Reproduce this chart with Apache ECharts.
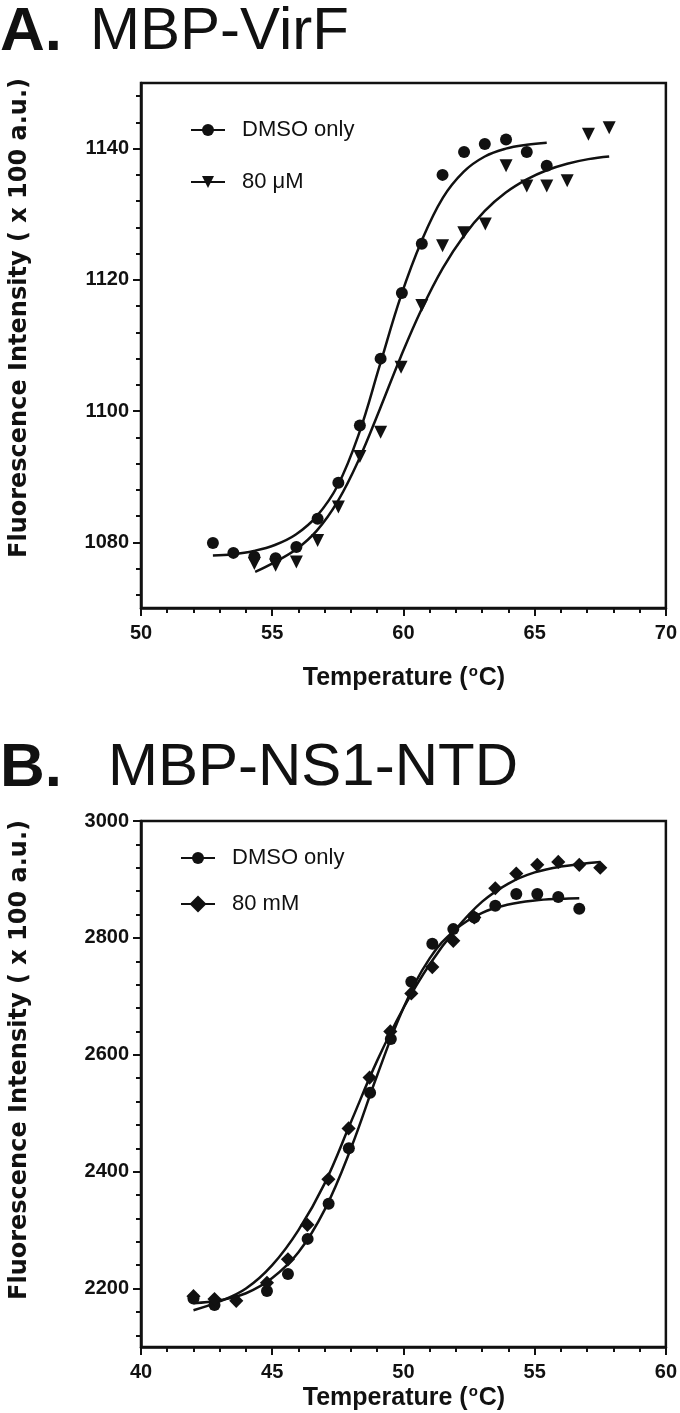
<!DOCTYPE html>
<html>
<head>
<meta charset="utf-8">
<script src="https://cdn.jsdelivr.net/npm/echarts@6/dist/echarts.min.js"></script>
<style>
html,body{margin:0;padding:0;background:#fff;}
#chart{width:680px;height:1413px;}
</style>
</head>
<body>
<div id="chart"></div>
<script>
// ---------- Panel A : MBP-VirF ----------
const tempDmsoA = [52.74,53.52,54.32,55.13,55.92,56.73,57.52,58.34,59.13,59.94,60.70,61.49,62.31,63.10,63.91,64.70,65.46];
const valDmsoA  = [1079.9,1078.4,1077.8,1077.6,1079.3,1083.6,1089.1,1097.8,1108.0,1118.0,1125.5,1136.0,1139.5,1140.7,1141.4,1139.5,1137.4];
const temp80A   = [54.32,55.13,55.92,56.73,57.52,58.34,59.13,59.91,60.70,61.49,62.30,63.12,63.91,64.70,65.46,66.24,67.05,67.84];
const val80A    = [1076.8,1076.5,1077.0,1080.3,1085.4,1093.1,1096.8,1106.7,1116.1,1125.2,1127.2,1128.5,1137.4,1134.3,1134.3,1135.1,1142.2,1143.2];
const fitTempDmsoA = [52.74,53.5,54.3,55.1,55.9,56.7,57.5,58.3,59.1,59.9,60.7,61.5,62.3,63.1,63.9,64.7,65.46];
const fitValDmsoA  = [1078.0,1078.2,1078.7,1079.6,1081.2,1084.0,1088.7,1096.5,1107.0,1117.5,1126.0,1132.5,1136.5,1138.8,1140.0,1140.6,1140.9];
const fitTemp80A   = [54.35,55.1,55.9,56.7,57.5,58.3,59.1,59.9,60.7,61.5,62.3,63.1,63.9,64.7,65.46,66.24,67.05,67.84];
const fitVal80A    = [1075.5,1077.0,1078.9,1081.8,1086.3,1092.6,1100.3,1108.3,1115.6,1121.8,1126.7,1130.5,1133.3,1135.3,1136.7,1137.7,1138.4,1138.8];
const yLabelsA = [1080,1100,1120,1140];

// ---------- Panel B : MBP-NS1-NTD ----------
const tempDmsoB = [42.0,42.8,44.8,45.6,46.35,47.15,47.92,48.73,49.52,50.30,51.1,51.9,52.7,53.5,54.3,55.1,55.9,56.7];
const valDmsoB  = [2183,2172,2196,2225,2285,2345,2440,2535,2627,2725,2790,2815,2835,2855,2875,2875,2870,2850];
const temp80B   = [42.0,42.8,43.63,44.8,45.6,46.34,47.14,47.91,48.71,49.50,50.30,51.1,51.9,52.7,53.5,54.3,55.1,55.9,56.7,57.5];
const val80B    = [2187,2182,2179,2210,2250,2309,2387,2474,2561,2640,2705,2750,2795,2835,2885,2910,2925,2930,2925,2920];
const fitTempDmsoB = [42.0,43.0,44.0,45.0,46.0,47.0,48.0,49.0,50.0,51.0,52.0,53.0,54.0,55.0,56.0,56.7];
const fitValDmsoB  = [2175,2180,2192,2218,2262,2335,2440,2565,2680,2765,2815,2843,2857,2864,2867,2868];
const fitTemp80B   = [42.0,43.0,44.0,45.0,46.0,47.0,48.0,49.0,50.0,51.0,52.0,53.0,54.0,55.0,56.0,57.5];
const fitVal80B    = [2163,2178,2200,2240,2300,2380,2485,2590,2680,2755,2815,2862,2893,2912,2922,2930];
const yLabelsB = [2200,2400,2600,2800,3000];

const legendA = ['DMSO only','80 \u03bcM'];
const legendB = ['DMSO only','80 mM'];

function pairs(xs, ys){ return xs.map((x,i)=>[x, ys[i]]); }
function range(a, b, s){ const r=[]; for(let v=a; v<=b+1e-9; v+=s) r.push(Math.round(v*100)/100); return r; }

const INK = '#111';
const tickFont = {fontFamily:'Liberation Sans', fontWeight:'bold', fontSize:20, color:INK};

const chart = echarts.init(document.getElementById('chart'), null, {renderer:'canvas'});

function xAxisFor(g, min, max){
  return {
    type:'value', gridIndex:g, min:min, max:max, interval:5,
    axisLine:{show:true, onZero:false, lineStyle:{color:INK, width:2.5}},
    axisTick:{show:true, length:8, lineStyle:{color:INK, width:2}},
    minorTick:{show:true, splitNumber:5, length:5, lineStyle:{color:INK, width:2}},
    axisLabel:{...tickFont, margin:15, formatter:v=>String(v)},
    splitLine:{show:false}, minorSplitLine:{show:false}
  };
}
function yAxisMain(g, min, max, labels){
  return {
    type:'value', gridIndex:g, min:min, max:max, position:'left',
    axisLine:{show:true, onZero:false, lineStyle:{color:INK, width:2.5}},
    axisTick:{show:true, length:8, customValues:labels, lineStyle:{color:INK, width:2}},
    axisLabel:{...tickFont, margin:12, customValues:labels, formatter:v=>String(v)},
    splitLine:{show:false}
  };
}
function yAxisMinor(g, min, max, ticks){
  return {
    type:'value', gridIndex:g, min:min, max:max, position:'left', offset:0,
    axisLine:{show:false},
    axisTick:{show:true, length:5, customValues:ticks, lineStyle:{color:INK, width:2}},
    axisLabel:{show:false},
    splitLine:{show:false}
  };
}
function fitSeries(name, xi, yi, data, sym, size, rot){
  return {name:name, type:'line', xAxisIndex:xi, yAxisIndex:yi, data:data, smooth:0.4,
    showSymbol:false, symbol:sym, symbolSize:size, symbolRotate:rot||0,
    lineStyle:{color:INK, width:2.5}, itemStyle:{color:INK}, silent:true, z:3};
}
function ptSeries(name, xi, yi, data, sym, size, rot){
  return {name:name, type:'scatter', xAxisIndex:xi, yAxisIndex:yi, data:data,
    symbol:sym, symbolSize:size, symbolRotate:rot||0, itemStyle:{color:INK, opacity:1}, z:4};
}
function legendFor(items, left, top, gap){
  return {data:items, left:left, top:top, orient:'vertical', padding:0, itemGap:gap,
    itemWidth:34, itemHeight:15, selectedMode:false,
    textStyle:{fontFamily:'Liberation Sans', fontSize:22, color:INK, padding:[0,0,0,12]}};
}
function xTitle(y){
  return {type:'text', x:404, y:y, style:{
    text:'{n|Temperature (}{s|o}{n|C)}', align:'center', verticalAlign:'middle',
    rich:{
      n:{fontFamily:'Liberation Sans', fontWeight:'bold', fontSize:25, fill:INK, lineHeight:28},
      s:{fontFamily:'Liberation Sans', fontWeight:'bold', fontSize:15, fill:INK, lineHeight:28, verticalAlign:'top', padding:[0,1,0,1]}
    }}};
}

const option = {
  animation:false,
  backgroundColor:'#fff',
  grid:[
    {left:141, top:83, width:526, height:525, show:true, borderColor:INK, borderWidth:2.5, containLabel:false},
    {left:141, top:821, width:526, height:526, show:true, borderColor:INK, borderWidth:2.5, containLabel:false}
  ],
  xAxis:[ xAxisFor(0,50,70), xAxisFor(1,40,60) ],
  yAxis:[
    yAxisMain(0,1070,1150,yLabelsA),
    yAxisMinor(0,1070,1150,range(1072,1148,4)),
    yAxisMain(1,2100,3000,yLabelsB),
    yAxisMinor(1,2100,3000,range(2120,3000,40))
  ],
  legend:[
    legendFor(legendA, 190, 119, 30),
    legendFor(legendB, 180, 847, 24)
  ],
  series:[
    fitSeries(legendA[0],0,0,pairs(fitTempDmsoA,fitValDmsoA),'circle',12),
    fitSeries(legendA[1],0,0,pairs(fitTemp80A,fitVal80A),'triangle',13,180),
    ptSeries(legendA[0],0,0,pairs(tempDmsoA,valDmsoA),'circle',12),
    ptSeries(legendA[1],0,0,pairs(temp80A,val80A),'triangle',13,180),
    fitSeries(legendB[0],1,2,pairs(fitTempDmsoB,fitValDmsoB),'circle',12),
    fitSeries(legendB[1],1,2,pairs(fitTemp80B,fitVal80B),'rect',10,45),
    ptSeries(legendB[0],1,2,pairs(tempDmsoB,valDmsoB),'circle',12),
    ptSeries(legendB[1],1,2,pairs(temp80B,val80B),'rect',10,45)
  ],
  graphic:[
    {type:'text', left:0, top:2, style:{text:'A.', font:'bold 62px "Liberation Sans"', fill:INK}},
    {type:'text', left:90, top:2, style:{text:'MBP-VirF', font:'60px "Liberation Sans"', fill:INK}},
    {type:'text', left:0, top:738, style:{text:'B.', font:'bold 62px "Liberation Sans"', fill:INK}},
    {type:'text', left:108, top:738, style:{text:'MBP-NS1-NTD', font:'60px "Liberation Sans"', fill:INK}},
    xTitle(678),
    xTitle(1398),
    {type:'text', x:20, y:318, rotation:Math.PI/2, style:{text:'Fluorescence Intensity ( x 100 a.u.)', font:'bold 24px "DejaVu Sans"', fill:INK, align:'center', verticalAlign:'middle'}},
    {type:'text', x:20, y:1060, rotation:Math.PI/2, style:{text:'Fluorescence Intensity ( x 100 a.u.)', font:'bold 24px "DejaVu Sans"', fill:INK, align:'center', verticalAlign:'middle'}}
  ]
};
chart.setOption(option);
</script>
</body>
</html>
